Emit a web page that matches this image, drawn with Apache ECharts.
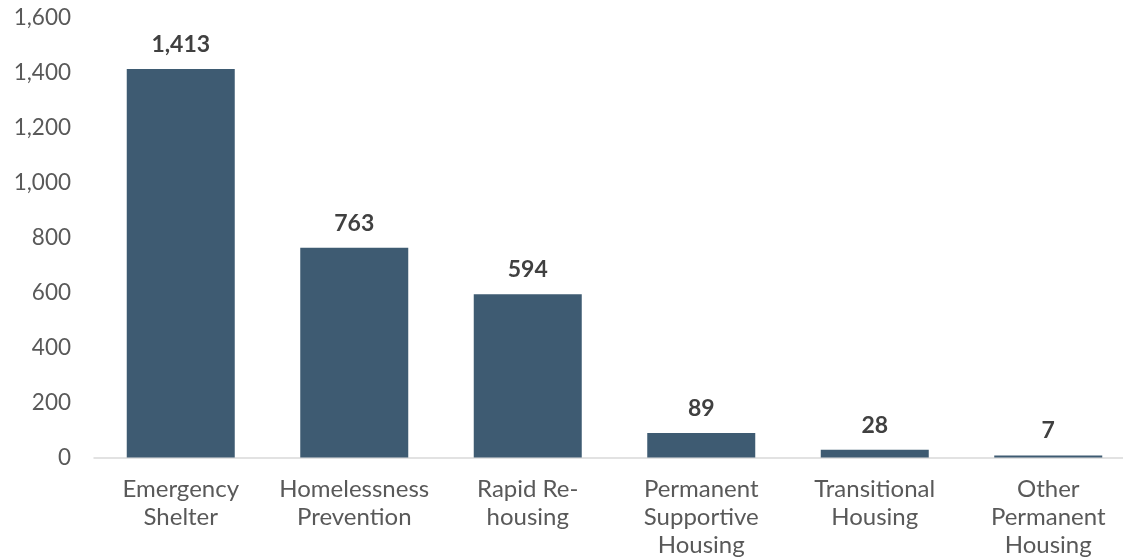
<!DOCTYPE html>
<html>
<head>
<meta charset="utf-8">
<script src="https://cdn.jsdelivr.net/npm/echarts@6/dist/echarts.min.js"></script>
<style>html,body{margin:0;padding:0;background:#fff;overflow:hidden;width:1123px;height:560px;}#c{width:1150px;height:560px;}</style>
</head>
<body>
<div id="c"></div>
<script>
const categories = ["Emergency\nShelter", "Homelessness\nPrevention", "Rapid Re-\nhousing", "Permanent\nSupportive\nHousing", "Transitional\nHousing", "Other\nPermanent\nHousing"];
const values = [1413, 763, 594, 89, 28, 7];
const yTicks = {min: 0, max: 1600, interval: 200};

const chart = echarts.init(document.getElementById('c'));
chart.setOption({
  animation: false,
  backgroundColor: '#ffffff',
  textStyle: {fontFamily: 'Lato'},
  grid: {left: 94, top: 17.5, width: 1041, height: 440, containLabel: false},
  xAxis: {
    type: 'category',
    data: categories,
    axisLine: {lineStyle: {color: '#d9d9d9', width: 1.5}},
    axisTick: {show: false},
    axisLabel: {fontFamily: 'Lato', fontSize: 24, color: '#595959', lineHeight: 28, margin: 18, interval: 0}
  },
  yAxis: {
    type: 'value',
    min: yTicks.min, max: yTicks.max, interval: yTicks.interval,
    splitLine: {show: false},
    axisLine: {show: false},
    axisTick: {show: false},
    axisLabel: {fontFamily: 'Lato', fontSize: 22.5, color: '#595959', margin: 23,
      formatter: v => v.toLocaleString('en-US')}
  },
  series: [{
    type: 'bar',
    data: values,
    barWidth: 108,
    itemStyle: {color: '#3e5b72'},
    label: {show: true, position: 'top', distance: 13, fontFamily: 'Lato', fontSize: 23, fontWeight: 'bold', color: '#404040',
      formatter: p => p.value.toLocaleString('en-US')}
  }]
});
</script>
</body>
</html>
